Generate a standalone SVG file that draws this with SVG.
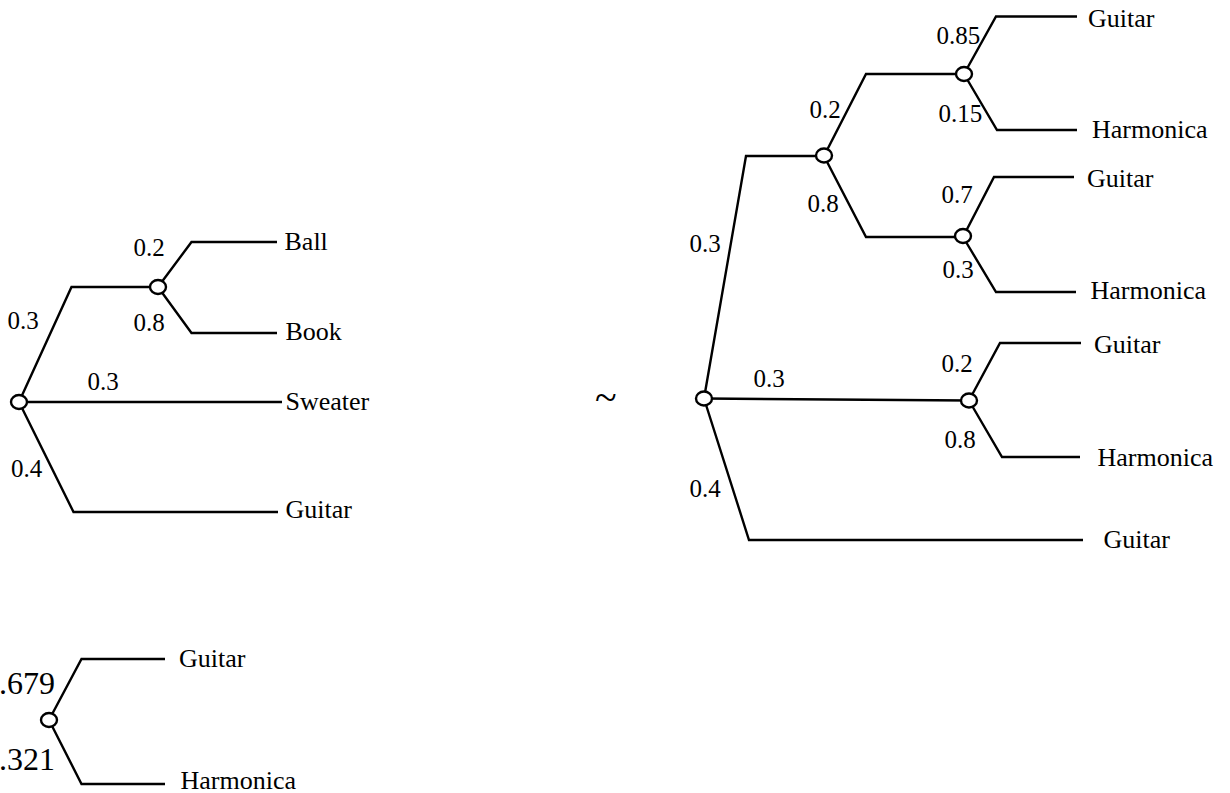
<svg xmlns="http://www.w3.org/2000/svg" width="1230" height="793" viewBox="0 0 1230 793">
<style>
.e{fill:none;stroke:#000;stroke-width:2.4;stroke-linejoin:miter}
.n{fill:#fff;stroke:#000;stroke-width:2.4}
text{fill:#000}
.t{font-size:26px}
.p{font-size:25px}
.q{font-size:32px}
</style>
<rect width="1230" height="793" fill="#fff"/>
<g id="connectors">
<path class="e" d="M19,402 L71.5,287 L158,287"/>
<path class="e" d="M158,287 L191.5,242 L277,242"/>
<path class="e" d="M158,287 L191.5,333 L277,333"/>
<path class="e" d="M19,402 L282,402"/>
<path class="e" d="M19,402 L73.5,512 L278,512"/>
<path class="e" d="M49,720 L81.5,659 L165,659"/>
<path class="e" d="M49,720 L81.5,784 L165,784"/>
<path class="e" d="M704,398.5 L746,156 L824,156"/>
<path class="e" d="M824,156 L866,74 L964,74"/>
<path class="e" d="M824,156 L866,237 L963,237"/>
<path class="e" d="M964,74 L996,16.5 L1077,16.5"/>
<path class="e" d="M964,74 L997,130 L1077,130"/>
<path class="e" d="M963,237 L994,177 L1074,177"/>
<path class="e" d="M963,237 L996,292 L1076,292"/>
<path class="e" d="M704,398.5 L969,400.5"/>
<path class="e" d="M969,400.5 L1000,343 L1081,343"/>
<path class="e" d="M969,400.5 L1002,457 L1080,457"/>
<path class="e" d="M704,398.5 L749,540 L1083,540"/>
</g>
<g id="left-root"><ellipse class="n" cx="19" cy="402" rx="8" ry="7"/></g>
<g id="left-n2"><ellipse class="n" cx="158" cy="287" rx="8" ry="7"/></g>
<g id="bl-root"><ellipse class="n" cx="49" cy="720" rx="8" ry="7"/></g>
<g id="right-root"><ellipse class="n" cx="704" cy="398.5" rx="8" ry="7"/></g>
<g id="right-n2"><ellipse class="n" cx="824" cy="155.5" rx="8" ry="7"/></g>
<g id="right-n3"><ellipse class="n" cx="964" cy="74" rx="8" ry="7"/></g>
<g id="right-n4"><ellipse class="n" cx="963" cy="236" rx="8" ry="7"/></g>
<g id="right-n5"><ellipse class="n" cx="969" cy="400.5" rx="8" ry="7"/></g>
<g id="labels" font-family="'Liberation Serif', 'Times New Roman', 'DejaVu Serif', serif">
<g id="labels-left">
<text class="p" x="133.5" y="256">0.2</text>
<text class="p" x="133.5" y="331">0.8</text>
<text class="p" x="7.5" y="329">0.3</text>
<text class="p" x="87.5" y="390">0.3</text>
<text class="p" x="11" y="477">0.4</text>
<text class="t" x="284.5" y="250">Ball</text>
<text class="t" x="285.5" y="340">Book</text>
<text class="t" x="285.5" y="410">Sweater</text>
<text class="t" x="285.5" y="518">Guitar</text>
</g>
<g id="labels-bottom">
<text class="q" x="-1" y="694">.679</text>
<text class="q" x="-1" y="770">.321</text>
<text class="t" x="179" y="667">Guitar</text>
<text class="t" x="180.5" y="789">Harmonica</text>
</g>
<g id="tilde"><text x="595" y="411" font-size="40">~</text></g>
<g id="labels-right">
<text class="p" x="936.5" y="44">0.85</text>
<text class="p" x="809.5" y="118">0.2</text>
<text class="p" x="938.5" y="122">0.15</text>
<text class="p" x="807.5" y="212">0.8</text>
<text class="p" x="941.5" y="203">0.7</text>
<text class="p" x="942.5" y="278">0.3</text>
<text class="p" x="689.5" y="252">0.3</text>
<text class="p" x="753.5" y="387">0.3</text>
<text class="p" x="941.5" y="372">0.2</text>
<text class="p" x="944.5" y="448">0.8</text>
<text class="p" x="689.5" y="497">0.4</text>
<text class="t" x="1088" y="27">Guitar</text>
<text class="t" x="1092" y="138">Harmonica</text>
<text class="t" x="1087" y="187">Guitar</text>
<text class="t" x="1090.5" y="299">Harmonica</text>
<text class="t" x="1094" y="353">Guitar</text>
<text class="t" x="1097.5" y="466">Harmonica</text>
<text class="t" x="1103.5" y="548">Guitar</text>
</g>
</g>
</svg>
